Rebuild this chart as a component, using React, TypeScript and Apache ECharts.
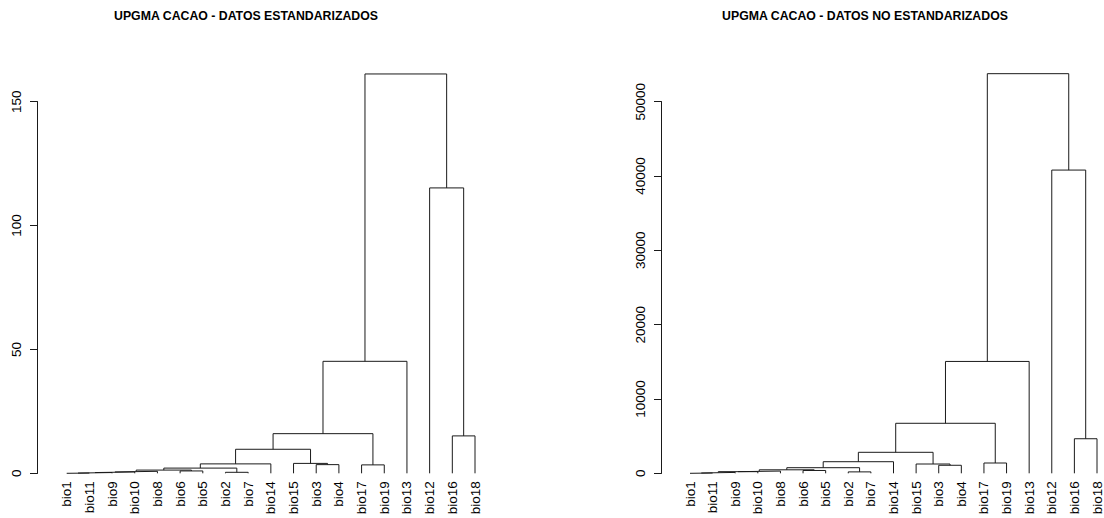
import React, { useEffect, useRef } from 'react';
import * as echarts from 'echarts';

// Leaf order along the x axis (same for both dendrograms)
const leafOrder = ['bio1', 'bio11', 'bio9', 'bio10', 'bio8', 'bio6', 'bio5', 'bio2', 'bio7', 'bio14', 'bio15', 'bio3', 'bio4', 'bio17', 'bio19', 'bio13', 'bio12', 'bio16', 'bio18'];

// Merge structure: node n{i+1} joins mergeLeft[i] and mergeRight[i]
const mergeLeft = ['bio1', 'n1', 'n2', 'n3', 'bio6', 'n4', 'bio2', 'n6', 'n8', 'bio3', 'bio15', 'n9', 'bio17', 'n12', 'n14', 'bio16', 'bio12', 'n15'];
const mergeRight = ['bio11', 'bio9', 'bio10', 'bio8', 'bio5', 'n5', 'bio7', 'n7', 'bio14', 'bio4', 'n10', 'n11', 'bio19', 'n13', 'bio13', 'bio18', 'n16', 'n17'];

// Merge heights
const heightsStd = [0.1, 0.3, 0.55, 0.8, 0.95, 1.3, 0.4, 2.1, 3.8, 3.5, 4.0, 9.7, 3.4, 16.0, 45.2, 15.1, 115.2, 161.2];
const heightsRaw = [40, 120, 220, 300, 380, 470, 190, 755, 1560, 1080, 1250, 2825, 1385, 6730, 15050, 4650, 40800, 53770];

const ticksStd = [0, 50, 100, 150];
const ticksRaw = [0, 10000, 20000, 30000, 40000, 50000];

const titleStd = 'UPGMA CACAO - DATOS ESTANDARIZADOS';
const titleRaw = 'UPGMA CACAO - DATOS NO ESTANDARIZADOS';

const FONT = 'Liberation Sans, Arial, Helvetica, sans-serif';
const LINE = '#1a1a1a';

function buildSegments(heights: number[]) {
  const pos: Record<string, number> = {};
  const hgt: Record<string, number> = {};
  leafOrder.forEach((n, i) => { pos[n] = i; hgt[n] = 0; });
  const segs: number[][][] = [];
  mergeLeft.forEach((l, i) => {
    const r = mergeRight[i];
    const id = 'n' + (i + 1);
    const h = heights[i];
    segs.push([[pos[l], hgt[l]], [pos[l], h], [pos[r], h], [pos[r], hgt[r]]]);
    pos[id] = (pos[l] + pos[r]) / 2;
    hgt[id] = h;
  });
  return segs;
}

export default function App() {
  const ref = useRef<HTMLDivElement>(null);
  useEffect(() => {
    if (!ref.current) return;
    const chart = echarts.init(ref.current, undefined, { renderer: 'svg' });
    const top = 101.7;
    const bottom = 44.7;
    const fs = 13.5;
    const mkX = (gi: number) => ({
      type: 'value', gridIndex: gi, min: 0, max: leafOrder.length - 1, interval: 1,
      axisLine: { show: false }, axisTick: { show: false }, splitLine: { show: false },
      axisLabel: {
        rotate: 90, margin: 8, fontSize: fs, fontFamily: FONT, color: '#000',
        formatter: (v: number) => leafOrder[Math.round(v)] ?? '',
      },
    });
    const mkY = (gi: number, ticks: number[], offset: number) => ({
      type: 'value', gridIndex: gi, min: ticks[0], max: ticks[ticks.length - 1],
      interval: ticks[1] - ticks[0], offset,
      axisLine: { show: true, onZero: false, lineStyle: { color: LINE, width: 1 } },
      axisTick: { show: true, length: 7.7, lineStyle: { color: LINE, width: 1 } },
      splitLine: { show: false },
      axisLabel: {
        rotate: 90, margin: 14, fontSize: fs, fontFamily: FONT, color: '#000',
        formatter: (v: number) => String(v),
      },
    });
    const series: any[] = [];
    [heightsStd, heightsRaw].forEach((hs, gi) => {
      buildSegments(hs).forEach((seg) => {
        series.push({
          type: 'line', xAxisIndex: gi, yAxisIndex: gi, data: seg,
          symbol: 'none', showSymbol: false, clip: false, silent: true,
          lineStyle: { color: LINE, width: 1 },
        });
      });
    });
    const titleStyle = { fontSize: 12.3, fontWeight: 'bold', fontFamily: FONT, color: '#000' };
    chart.setOption({
      animation: false,
      backgroundColor: '#fff',
      title: [
        { text: titleStd, left: 246, top: 10, padding: 0, textAlign: 'center', textStyle: titleStyle },
        { text: titleRaw, left: 865, top: 10, padding: 0, textAlign: 'center', textStyle: titleStyle },
      ],
      grid: [
        { left: 66.7, right: 1104 - 475, top, bottom },
        { left: 690, right: 5.4, top, bottom },
      ],
      xAxis: [mkX(0), mkX(1)],
      yAxis: [mkY(0, ticksStd, 29), mkY(1, ticksRaw, 28.3)],
      series,
    });
    return () => chart.dispose();
  }, []);
  return <div ref={ref} style={{ position: 'absolute', left: 0, top: 0, width: 1104, height: 518 }} />;
}
